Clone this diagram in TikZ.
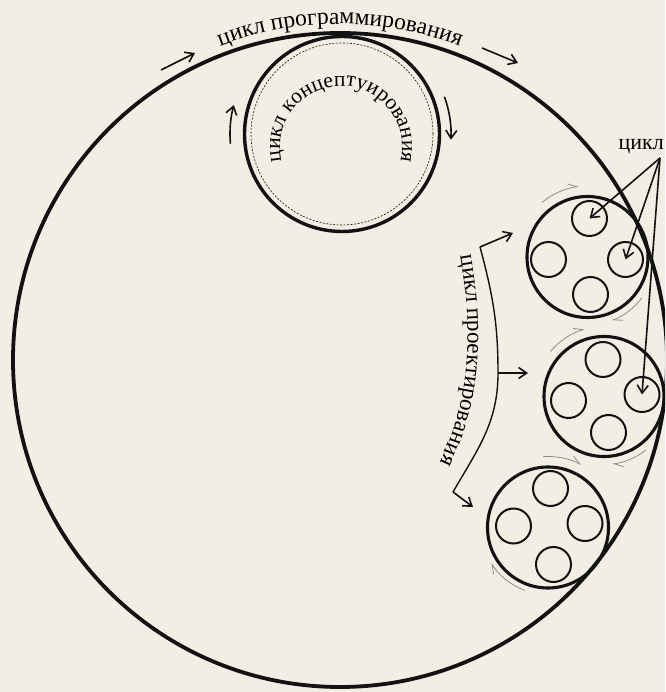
\documentclass[tikz,border=0pt]{standalone}
\usepackage{fontspec}
\setmainfont{Liberation Serif}
\usetikzlibrary{arrows.meta,decorations.text}
\definecolor{bg}{RGB}{243,238,227}
\definecolor{ink}{RGB}{18,18,18}
\begin{document}
\begin{tikzpicture}[x=1pt,y=1pt,
  bigc/.style={circle,draw=ink,line width=3.8pt,inner sep=0pt},
  clus/.style={circle,draw=ink,line width=3.1pt,inner sep=0pt,minimum size=121pt},
  inn/.style={circle,draw=ink,line width=2pt,inner sep=0pt,minimum size=35pt},
  arr/.style={draw=ink,line width=1.6pt,-{Straight Barb[length=8pt,width=11pt]}},
  garr/.style={draw=gray!90,line width=0.8pt,-{Straight Barb[left,length=9pt,width=8pt]}},
  lbl/.style={font=\fontsize{22}{26}\selectfont}
]
\useasboundingbox (0,0) rectangle (665,692);
\fill[bg] (0,0) rectangle (665,692);
\clip (0,0) rectangle (665,692);

% main circles
\node[bigc,minimum size=654pt] (big) at (340,332) {};
\node[bigc,line width=3.4pt,minimum size=195pt] (cc) at (342,558) {};
\draw[ink,line width=0.6pt,dash pattern=on 2pt off 1.5pt] (cc.center) circle[radius=91];

% clusters
\node[clus] (c1) at (587.5,435) {};
\node[clus,minimum size=120pt] (c2) at (604,295.5) {};
\node[clus] (c3) at (548,164.5) {};

\node[inn] (c1t) at (589.5,473.5) {};
\node[inn] (c1l) at (548.5,432.5) {};
\node[inn] (c1r) at (625.5,432.5) {};
\node[inn] (c1b) at (590.5,397.5) {};

\node[inn] (c2t) at (603,332.5) {};
\node[inn] (c2l) at (568.5,291.5) {};
\node[inn] (c2r) at (642,297.5) {};
\node[inn] (c2b) at (608.5,259.5) {};

\node[inn] (c3t) at (550.5,203.5) {};
\node[inn] (c3l) at (513.5,166) {};
\node[inn] (c3r) at (585,168.5) {};
\node[inn] (c3b) at (553.5,127.5) {};

% label "цикл" with arrows
\node[lbl,anchor=base east,inner sep=0pt] (lab) at (664,542) {цикл};
\coordinate (lp) at (660,534);
\draw[arr] (lp) -- (c1t.center);
\draw[arr] (lp) -- (c1r.center);
\draw[arr] (lp) -- (c2r.center);

% text along big circle
\path[postaction={decorate},decoration={text along path,text align=center,
  text={|\fontsize{23.5}{28}\selectfont|цикл программирования}}]
  ([shift={(120:336)}]big.center) arc[start angle=120,end angle=60,radius=336];
\coordinate (pa1) at (161,622); \coordinate (pa2) at (195,639);
\coordinate (pb1) at (482,644); \coordinate (pb2) at (518,629);
\draw[arr] (pa1) -- (pa2);
\draw[arr] (pb1) -- (pb2);

% text in concept circle
\coordinate (ct) at (341,545);
\path[postaction={decorate},decoration={text along path,text align=center,
  text={|\fontsize{21.5}{26}\selectfont|цикл концептуирования}}]
  ([shift={(230:61)}]ct) arc[start angle=230,end angle=-50,radius=61];
\draw[arr] ([shift={(185:112)}]cc.center) arc[start angle=185,end angle=165,radius=112];
\draw[arr] ([shift={(20:109)}]cc.center) arc[start angle=20,end angle=-3,radius=109];

% gray arrows around clusters
\draw[garr] ([shift={(130:71)}]c1.center) arc[start angle=130,end angle=97,radius=71];
\draw[garr] ([shift={(-37:68)}]c1.center) arc[start angle=-37,end angle=-69,radius=68];
\draw[garr] ([shift={(140:70)}]c2.center) arc[start angle=140,end angle=106,radius=70];
\draw[garr] ([shift={(-52:68)}]c2.center) arc[start angle=-52,end angle=-83,radius=68];
\draw[garr] ([shift={(94:71)}]c3.center) arc[start angle=94,end angle=62,radius=71];
\draw[garr] ([shift={(-110:67)}]c3.center) arc[start angle=-110,end angle=-148,radius=67];

% bracket for design cycle
\coordinate (bt) at (480,445); \coordinate (btA) at (513,459);
\coordinate (bm) at (498,319); \coordinate (bmA) at (528,319);
\coordinate (bb) at (453,200); \coordinate (bbA) at (473,185);
\draw[ink,line width=1.4pt] (bt) to[out=-75,in=90] (bm) to[out=-90,in=60] (bb);
\draw[arr] (bt) -- (btA);
\draw[arr] (bm) -- (bmA);
\draw[arr] (bb) -- (bbA);

\coordinate (vt) at (460,436);
\coordinate (vb) at (415,190);
\path[postaction={decorate},decoration={text along path,text align=left,
  text={|\fontsize{23}{27}\selectfont|цикл проектирования}}]
  (vt) .. controls (475,355) and (472,265) .. (vb);
\end{tikzpicture}
\end{document}
